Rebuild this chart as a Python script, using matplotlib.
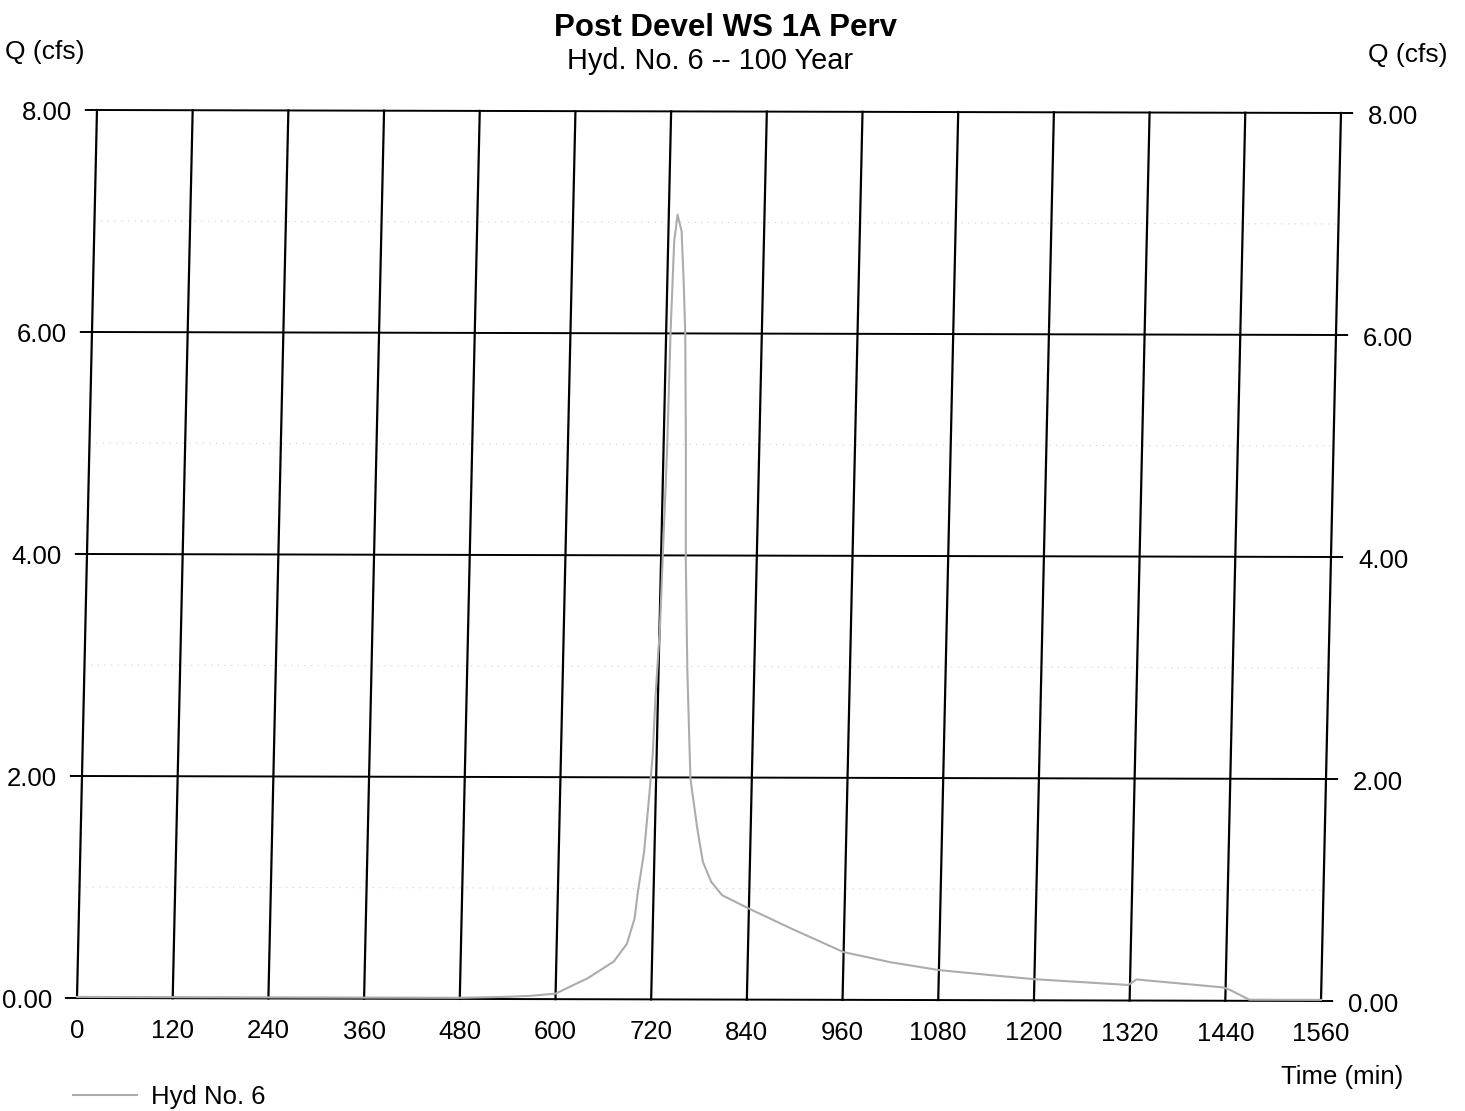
import numpy as np
import matplotlib
matplotlib.use("Agg")
import matplotlib.pyplot as plt
import matplotlib.transforms as mtransforms
from matplotlib.lines import Line2D

plt.rcParams['font.family'] = ['Liberation Sans', 'DejaVu Sans']

# ---------------- data ----------------
time_min = [0, 120, 240, 360, 480, 540, 570, 600, 640, 672, 688, 697, 700, 707, 712,
            715, 717, 720.5, 722, 724.5, 725.5, 727.5, 731, 736.5, 740.5, 744, 748,
            751, 756, 763, 773, 781, 792, 806, 840, 894, 960, 1019, 1080, 1154,
            1200, 1318, 1328, 1437, 1445, 1470, 1560]
flow_cfs = [0.01, 0.01, 0.01, 0.01, 0.01, 0.02, 0.03, 0.05, 0.19, 0.34, 0.50, 0.73,
            0.95, 1.33, 1.85, 2.20, 2.75, 3.34, 3.97, 4.96, 6.00, 6.83, 7.07, 6.92,
            6.47, 6.00, 4.96, 3.97, 2.98, 1.99, 1.54, 1.24, 1.06, 0.94, 0.82, 0.64,
            0.43, 0.34, 0.27, 0.22, 0.19, 0.14, 0.19, 0.12, 0.10, 0.01, 0.01]
x_ticks = [0, 120, 240, 360, 480, 600, 720, 840, 960, 1080, 1200, 1320, 1440, 1560]
y_ticks = [0.0, 2.0, 4.0, 6.0, 8.0]
y_minor = [1.0, 3.0, 5.0, 7.0]
title = "Post Devel WS 1A Perv"
subtitle = "Hyd. No. 6 -- 100 Year"
series_name = "Hyd No. 6"

# ---------------- figure ----------------
W, H = 1465, 1111
fig = plt.figure(figsize=(W / 100, H / 100), dpi=100)
x0p, x1p = 77, 1321
ytop, ybot = 110, 998
ax = fig.add_axes([x0p / W, 1 - ybot / H, (x1p - x0p) / W, (ybot - ytop) / H])
ax.set_xlim(0, 1560)
ax.set_ylim(0, 8)
ax.axis('off')

# scanned page is slightly sheared: emulate with an affine skew about the lower-left corner
ox, oy = x0p, H - ybot
skew = (mtransforms.Affine2D().translate(-ox, -oy)
        .skew(np.arctan(0.0225), np.arctan(-0.0024)).translate(ox, oy))
tr = ax.transData + skew

def off(dx, dy):
    return mtransforms.ScaledTranslation(dx / 100, dy / 100, fig.dpi_scale_trans)

FS = 18.5

# minor dotted lines
for y in y_minor:
    ax.plot([0, 1560], [y, y], transform=tr, color='#d0d0d0', lw=0.8,
            linestyle=(0, (1, 5)), clip_on=False, zorder=1)

# horizontal grid + tick stubs
for y in y_ticks:
    ax.plot([-14, 1574], [y, y], transform=tr, color='black', lw=1.4,
            clip_on=False, zorder=2)
# vertical grid
for x in x_ticks:
    ax.plot([x, x], [0, 8], transform=tr, color='black', lw=1.6,
            clip_on=False, zorder=2)

# hydrograph
ax.plot(time_min, flow_cfs, transform=tr, color='#acacac', lw=1.5,
        clip_on=False, zorder=3)

# tick labels
for y in y_ticks:
    ax.text(0, y, f"{y:.2f}", transform=tr + off(-25, -10), ha='right',
            va='baseline', fontsize=FS)
    ax.text(1560, y, f"{y:.2f}", transform=tr + off(27, -11), ha='left',
            va='baseline', fontsize=FS)
for x in x_ticks:
    ax.text(x, 0, f"{x}", transform=tr + off(0, -40), ha='center',
            va='baseline', fontsize=FS)

# titles and axis labels
fig.text(725 / W, 1 - 36 / H, title, ha='center', va='baseline',
         fontsize=22.5, fontweight='bold')
fig.text(710 / W, 1 - 69 / H, subtitle, ha='center', va='baseline', fontsize=20.8)
fig.text(5 / W, 1 - 52 / H, "Q (cfs)", ha='left', va='center', fontsize=19)
fig.text(1448 / W, 1 - 55 / H, "Q (cfs)", ha='right', va='center', fontsize=19)
fig.text(1403 / W, 1 - 1077 / H, "Time (min)", ha='right', va='center', fontsize=FS)

# legend
handle = Line2D([], [], color='#acacac', lw=1.5)
ax.legend(handles=[handle], labels=[series_name], loc='center left',
          bbox_to_anchor=(73 / W, 1 - 1097 / H), bbox_transform=fig.transFigure,
          frameon=False, fontsize=FS, handlelength=2.5, handletextpad=0.55,
          borderpad=0, borderaxespad=0)

fig.savefig("out.png", dpi=100, facecolor='white')
